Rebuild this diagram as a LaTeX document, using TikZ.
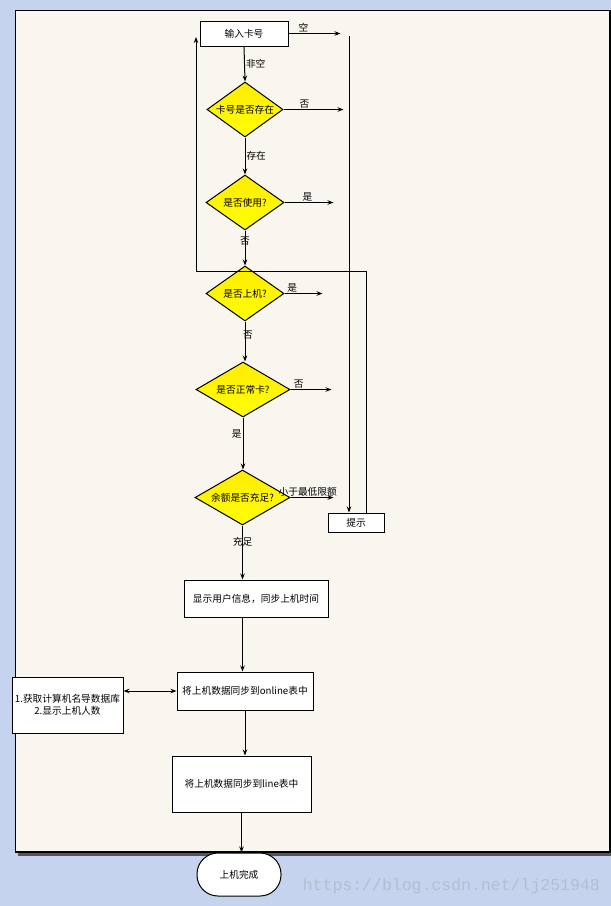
\documentclass[tikz,border=0pt]{standalone}
\usepackage{fontspec}
\newfontfamily\cjk{Noto Sans CJK SC}
\newfontfamily\wmfont{Liberation Mono}
\usetikzlibrary{shapes.geometric,arrows.meta}
\definecolor{bgblue}{RGB}{197,211,238}
\definecolor{paper}{RGB}{249,246,240}
\definecolor{shadegray}{RGB}{85,85,85}
\definecolor{wmgray}{RGB}{180,190,210}
\begin{document}
\begin{tikzpicture}[x=1pt, y=-1pt, line width=1pt,
        >={Stealth[length=6pt,width=4.5pt]},
        font=\cjk\fontsize{9.7}{11.5}\selectfont,
        box/.style={draw, fill=white, inner sep=0pt, align=center},
        dec/.style={diamond, draw, inner sep=0pt, top color=yellow!85!orange, bottom color=yellow},
        lbl/.style={inner sep=1pt}]
        \useasboundingbox (0,0) rectangle (611,906);
        \fill[bgblue] (0,0) rectangle (611,906);
        \fill[shadegray] (18,852) rectangle (611,856);
        \draw[fill=paper, line width=1.5pt] (15.5,10.5) rectangle (610,852);
        % boxes
        \node[box, minimum width=88, minimum height=25] (card) at (244,33.5) {输入卡号};
        \node[box, minimum width=56, minimum height=19] (tip) at (356,522.5) {提示};
        \node[box, minimum width=144, minimum height=37] (userinfo) at (256,598.5) {显示用户信息，同步上机时间};
        \node[box, minimum width=136, minimum height=38] (tonline) at (245,691) {将上机数据同步到online表中};
        \node[box, minimum width=111, minimum height=56] (info) at (67.5,705) {1.获取计算机名导数据库\\2.显示上机人数};
        \node[box, minimum width=139, minimum height=56] (tline) at (241.5,784) {将上机数据同步到line表中};
        \node[box, rounded corners=21pt, minimum width=84, minimum height=43] (done) at (239,874.5) {上机完成};
        % decisions
        \node[dec, minimum width=76, minimum height=55, label=center:卡号是否存在] (exist) at (245,109.5) {};
        \node[dec, minimum width=78, minimum height=55, label=center:是否使用?] (used) at (245,202.5) {};
        \node[dec, minimum width=78, minimum height=55, label=center:是否上机?] (logged) at (245,293.5) {};
        \node[dec, minimum width=94, minimum height=55, label=center:是否正常卡?] (normal) at (243,389.5) {};
        \node[dec, minimum width=95, minimum height=55, label=center:余额是否充足?] (money) at (242.5,497.5) {};
        % main flow
        \draw[->] (card.south) -- (exist.north) node[lbl, midway, right] {非空};
        \draw[->] (exist.south) -- (used.north) node[lbl, midway, right] {存在};
        \draw[->] (used.south) -- (logged.north) node[lbl, pos=0.3] {否};
        \draw[->] (logged.south) -- (logged.south |- normal.north) node[lbl, pos=0.35, xshift=3pt] {否};
        \draw[->] (normal.south) -- (normal.south |- money.north) node[lbl, pos=0.32, left] {是};
        \draw[->] (money.south) -- (money.south |- userinfo.north) node[lbl, pos=0.3] {充足};
        \draw[->] (userinfo.south -| money.south) -- (tonline.north -| money.south);
        \draw[<->] (tonline.west -| info.east) -- (tonline.west);
        \draw[->] (tonline.south) -- (tonline.south |- tline.north);
        \draw[->] (tline.south) -- (tline.south |- done.north);
        % exits to the right
        \foreach \n/\l/\t/\p in {card/52/空/0.29, exist/60/否/0.35, used/49/是/0.47,
                logged/38/是/0.2, normal/41/否/0.2, money/43/小于最低限额/0.4}
            {\draw[->] (\n.east) -- ++(\l,0) node[lbl, pos=\p, above] {\t};};
        % back to the card input
        \coordinate (hub) at (349,36);
        \coordinate (turn) at (196,271);
        \coordinate (reentry) at (196,37);
        \draw[->] (hub) -- ([xshift=-7pt]tip.north);
        \draw[->] ([xshift=10pt]tip.north) |- (turn) -- (reentry);
        \node[text=wmgray, font=\wmfont\fontsize{16.5}{18}\selectfont, anchor=west] (url) at (299,886) {https://blog.csdn.net/lj251948};
\end{tikzpicture}
\end{document}
